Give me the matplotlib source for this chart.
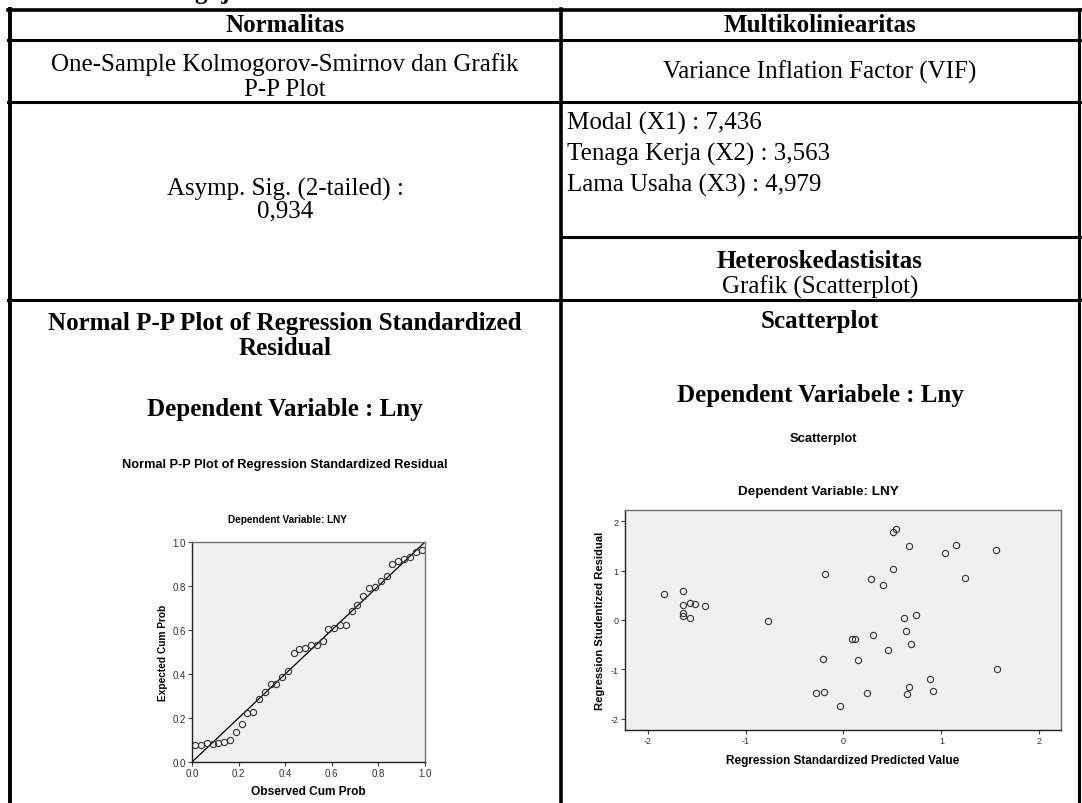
import numpy as np
import matplotlib
matplotlib.use('Agg')
import matplotlib.pyplot as plt
from matplotlib.lines import Line2D

W, H = 1082, 804

# P-P plot data (observed vs expected cumulative probability)
pp_observed = [0.013, 0.038, 0.063, 0.088, 0.113, 0.137, 0.163, 0.189, 0.213, 0.237,
               0.263, 0.288, 0.313, 0.338, 0.362, 0.388, 0.410, 0.438, 0.461, 0.486,
               0.511, 0.535, 0.561, 0.585, 0.611, 0.635, 0.660, 0.685, 0.710, 0.735,
               0.760, 0.785, 0.810, 0.835, 0.860, 0.885, 0.910, 0.935, 0.960, 0.985]
pp_expected = [0.077, 0.077, 0.085, 0.082, 0.086, 0.089, 0.101, 0.138, 0.173, 0.221,
               0.229, 0.286, 0.320, 0.355, 0.356, 0.386, 0.415, 0.495, 0.514, 0.517,
               0.532, 0.533, 0.551, 0.605, 0.609, 0.621, 0.624, 0.685, 0.714, 0.753,
               0.791, 0.797, 0.824, 0.844, 0.900, 0.915, 0.923, 0.930, 0.955, 0.962]

# Scatterplot data (standardized predicted vs studentized residual)
pred = [-1.837, -1.633, -1.633, -1.571, -1.520, -1.418, -1.633, -1.633, -1.568, -0.772,
        0.534, 0.506, 0.666, 1.149, 1.034, 1.561, -0.188, 0.510, 0.282, 0.404,
        1.238, 0.737, 0.615, 0.639, 0.302, 0.088, 0.118, 0.690, 0.459, -0.214,
        0.153, 1.571, 0.881, 0.670, -0.204, -0.276, 0.235, 0.646, 0.918, -0.035]
resid = [0.518, 0.593, 0.296, 0.337, 0.330, 0.282, 0.149, 0.081, 0.034, -0.012,
         1.849, 1.794, 1.506, 1.520, 1.359, 1.425, 0.942, 1.028, 0.827, 0.700,
         0.855, 0.095, 0.048, -0.228, -0.302, -0.383, -0.383, -0.496, -0.617, -0.792,
         -0.806, -0.988, -1.196, -1.350, -1.452, -1.478, -1.478, -1.492, -1.444, -1.746]

vif_lines = ["Modal (X1) : 7,436", "Tenaga Kerja (X2) : 3,563", "Lama Usaha (X3) : 4,979"]

fig = plt.figure(figsize=(W / 100, H / 100), dpi=100)


def fx(x):
    return x / W


def fy(y):
    return 1 - y / H


def hline(y, x0, x1, lw=2.2):
    fig.add_artist(Line2D([fx(x0), fx(x1)], [fy(y), fy(y)], color='black', lw=lw,
                          transform=fig.transFigure))


def vline(x, y0, y1, lw=2.2):
    fig.add_artist(Line2D([fx(x), fx(x)], [fy(y0), fy(y1)], color='black', lw=lw,
                          transform=fig.transFigure))


def txt(x, y, s, size=18, bold=False, ha='center', va='center', fam='Liberation Serif', **kw):
    fig.text(fx(x), fy(y), s, ha=ha, va=va, fontsize=size, family=fam,
             fontweight='bold' if bold else 'normal', **kw)


# table grid
hline(11, 8, 1081, lw=2.6)
hline(41, 8, 1081)
hline(103, 8, 1081)
hline(238, 561, 1081)
hline(301, 8, 1081)
vline(10, 10, 804, lw=2.8)
vline(1079, 10, 804, lw=2.2)
vline(561, 10, 804, lw=2.6)

# caption cut off at the top edge (only descenders show)
txt(93, -1.5, "Hasil Pengujian Asumsi Klasik", bold=True, ha='left', va='baseline')

# cell texts
txt(285, 26, "Normalitas", bold=True)
txt(820, 26, "Multikoliniearitas", bold=True)
txt(285, 77, "One-Sample Kolmogorov-Smirnov dan Grafik\nP-P Plot", linespacing=1.15)
txt(820, 72, "Variance Inflation Factor (VIF)")
txt(285, 200, "Asymp. Sig. (2-tailed) :\n0,934", linespacing=0.95)
for i, s in enumerate(vif_lines):
    txt(567, 123 + i * 31, s, ha='left')
txt(820, 262, "Heteroskedastisitas", bold=True)
txt(820, 287, "Grafik (Scatterplot)")
txt(285, 336, "Normal P-P Plot of Regression Standardized\nResidual", bold=True, linespacing=1.15)
txt(285, 410, "Dependent Variable : Lny", bold=True)
txt(820, 322, "Scatterplot", bold=True)
txt(820, 396, "Dependent Variabele : Lny", bold=True)

# SPSS style chart titles
sans = 'Liberation Sans'
txt(285, 465, "Normal P-P Plot of Regression Standardized Residual", size=9.2, bold=True, fam=sans)
txt(287, 520, "Dependent Variable: LNY", size=7.2, bold=True, fam=sans)
txt(823, 439, "Scatterplot", size=9.4, bold=True, fam=sans)
txt(818, 492, "Dependent Variable: LNY", size=9.7, bold=True, fam=sans)


def spss_axes(l, t, r, b, tsize):
    ax = fig.add_axes([fx(l), fy(b), fx(r) - fx(l), (b - t) / H])
    ax.set_facecolor('#f0f0f0')
    for side in ['left', 'bottom']:
        ax.spines[side].set_color('#202020')
    for side in ['top', 'right']:
        ax.spines[side].set_color('#707070')
    for sp in ax.spines.values():
        sp.set_linewidth(1.0)
    ax.tick_params(direction='out', length=3, width=0.8, color='#404040',
                   labelsize=tsize, labelcolor='#303030', pad=1.5)
    return ax


# P-P plot
ax1 = spss_axes(192, 543, 425, 763, 7)
ax1.plot([0, 1], [0, 1], color='black', lw=0.9)
ax1.plot(pp_observed, pp_expected, 'o', mfc='none', mec='#333333', mew=0.8, ms=4.5)
ax1.set_xlim(0, 1)
ax1.set_ylim(0, 1)
ax1.set_xticks([0, 0.2, 0.4, 0.6, 0.8, 1.0])
ax1.set_yticks([0, 0.2, 0.4, 0.6, 0.8, 1.0])
ax1.set_xticklabels(['0.0', '0.2', '0.4', '0.6', '0.8', '1.0'], family=sans)
ax1.set_yticklabels(['0.0', '0.2', '0.4', '0.6', '0.8', '1.0'], family=sans)
ax1.set_xlabel("Observed Cum Prob", fontsize=8.6, fontweight='bold', family=sans, labelpad=5)
ax1.set_ylabel("Expected Cum Prob", fontsize=7.3, fontweight='bold', family=sans, labelpad=3)

# Scatterplot
ax2 = spss_axes(625, 511, 1061, 731, 6.5)
ax2.plot(pred, resid, 'o', mfc='none', mec='#333333', mew=0.8, ms=4.5)
ax2.set_xlim(-2.23, 2.22)
ax2.set_ylim(-2.23, 2.23)
ax2.set_xticks([-2, -1, 0, 1, 2])
ax2.set_yticks([-2, -1, 0, 1, 2])
ax2.set_xticklabels(['-2', '-1', '0', '1', '2'], family=sans)
ax2.set_yticklabels(['-2', '-1', '0', '1', '2'], family=sans)
ax2.set_xlabel("Regression Standardized Predicted Value", fontsize=8.5, fontweight='bold',
               family=sans, labelpad=6)
ax2.set_ylabel("Regression Studentized Residual", fontsize=8.1, fontweight='bold',
               family=sans, labelpad=4)

fig.savefig('out.png', dpi=100)
